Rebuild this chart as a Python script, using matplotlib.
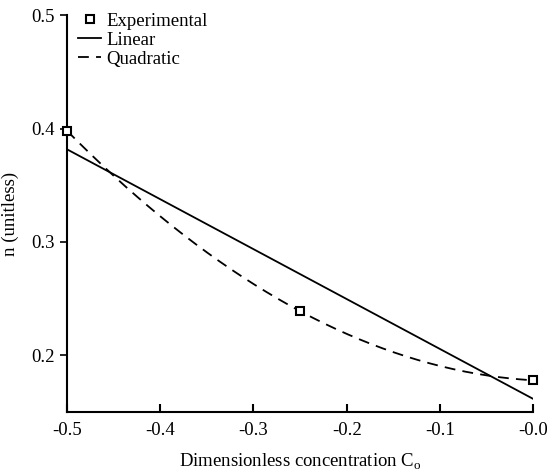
import numpy as np
import matplotlib
matplotlib.use("Agg")
import matplotlib.pyplot as plt

# Experimental points
conc = np.array([-0.5, -0.25, 0.0])
n_exp = np.array([0.398, 0.239, 0.178])

x_ticks = [-0.5, -0.4, -0.3, -0.2, -0.1, 0.0]
x_tick_labels = ['-0.5', '-0.4', '-0.3', '-0.2', '-0.1', '-0.0']
y_ticks = [0.2, 0.3, 0.4, 0.5]

plt.rcParams['font.family'] = 'Liberation Serif'
plt.rcParams['mathtext.fontset'] = 'custom'
plt.rcParams['mathtext.rm'] = 'Liberation Serif'
plt.rcParams['axes.unicode_minus'] = False

# least-squares fits of the experimental points
lin = np.polyfit(conc, n_exp, 1)
quad = np.polyfit(conc, n_exp, 2)
xs = np.linspace(-0.5, 0.0, 200)

fig = plt.figure(figsize=(5.47, 4.72), dpi=100)
ax = fig.add_axes([0.1225, 0.127, 0.852, 0.841])

ax.plot(conc, n_exp, 's', ms=6, mfc='white', mec='black', mew=1.5,
        label='Experimental', zorder=3, clip_on=False)
ax.plot(xs, np.polyval(lin, xs), '-', color='black', lw=1.3, label='Linear')
ax.plot(xs, np.polyval(quad, xs), '--', color='black', lw=1.3,
        dashes=(6, 4), label='Quadratic')

ax.set_xlim(-0.5, 0.0)
ax.set_ylim(0.15, 0.5)
ax.set_xticks(x_ticks)
ax.set_xticklabels(x_tick_labels)
ax.set_yticks(y_ticks)

for s in ['top', 'right']:
    ax.spines[s].set_visible(False)
for s in ['left', 'bottom']:
    ax.spines[s].set_linewidth(1.5)

ax.tick_params(axis='x', direction='in', length=6, width=1.5, labelsize=13.5, pad=7)
ax.tick_params(axis='y', direction='out', length=5, width=1.2, labelsize=13.5)

ax.set_xlabel(r'Dimensionless concentration C$_\mathrm{o}$', fontsize=13.5, labelpad=9)
ax.set_ylabel('n (unitless)', fontsize=13.5, labelpad=9)

ax.legend(loc='upper left', bbox_to_anchor=(0.0, 1.035), frameon=False,
          fontsize=13.5, handlelength=1.2, handletextpad=0.3, labelspacing=0.1,
          borderaxespad=0.2)

fig.savefig('out.png', dpi=100)
